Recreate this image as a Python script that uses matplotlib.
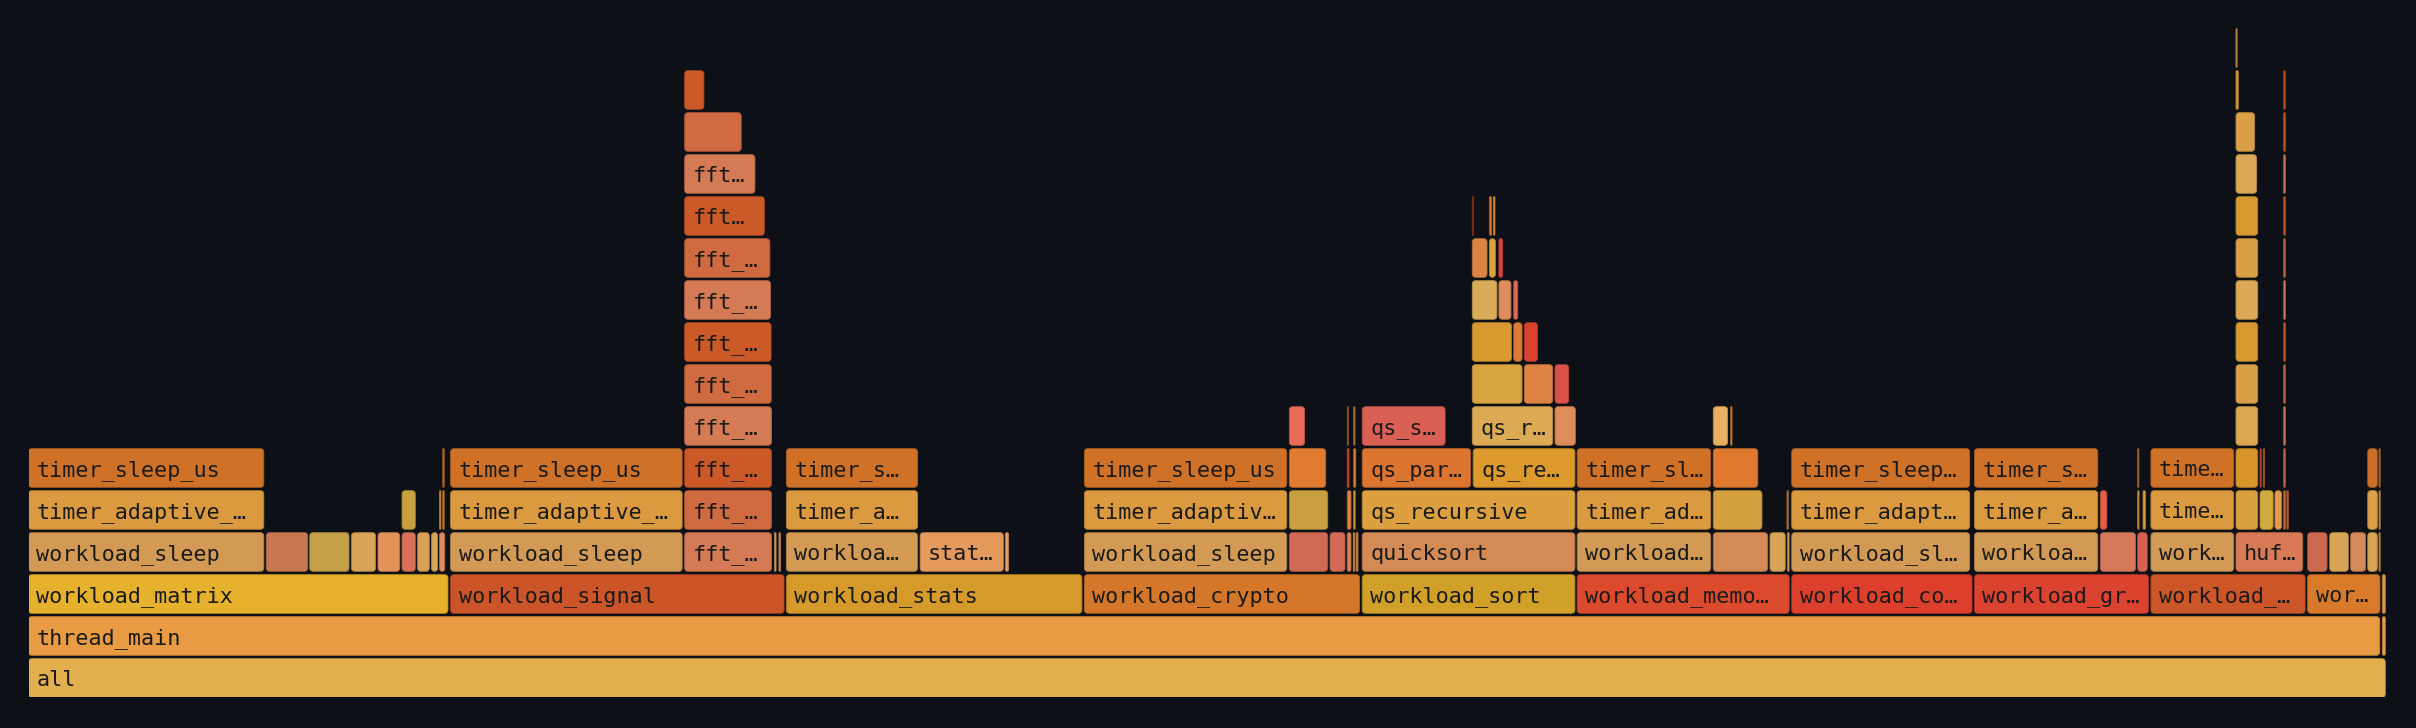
import matplotlib
matplotlib.use("Agg")
import matplotlib.pyplot as plt
import matplotlib.colors as mcolors
from matplotlib.patches import FancyBboxPatch

BG = "#0d1117"
TEXT_COLOR = "#1b1b1b"
TOTAL = 1531      # samples in "all"
MAX_DEPTH = 16

# frames: (depth, start sample, sample count, label)
base_frames = [
    (0, 0, 1531, "all"),
    (1, 0, 1527.4, "thread_main"),
    (1, 1527.5, 3.5, ""),
    (2, 0, 273.8, "workload_matrix"),
    (2, 273.9, 218.0, "workload_signal"),
    (2, 491.8, 193.4, "workload_stats"),
    (2, 685.2, 180.2, "workload_crypto"),
    (2, 865.5, 139.6, "workload_sort"),
    (2, 1005.0, 139.2, "workload_memo…"),
    (2, 1144.2, 118.6, "workload_co…"),
    (2, 1262.8, 114.5, "workload_gr…"),
    (2, 1377.3, 101.7, "workload_…"),
    (2, 1479.0, 48.5, "wor…"),
    (2, 1527.5, 3.5, ""),
]
base_colors = ["#e3b050", "#e89b42", "#e89b42",
               "#e6b22e", "#cb5428", "#d59a2a", "#d4772a", "#d0a028",
               "#dc4a2e", "#dc402c", "#dc4230", "#cc5628", "#d87a2a", "#e09a40"]

matrix_frames = [
    (3, 0, 154.3, "workload_sleep"),
    (3, 154.3, 28.5, ""),
    (3, 182.5, 27.1, ""),
    (3, 209.6, 17.2, ""),
    (3, 226.8, 15.7, ""),
    (3, 242.4, 10.2, ""),
    (3, 252.5, 9.2, ""),
    (3, 261.6, 5.5, ""),
    (3, 266.8, 4.9, ""),
    (4, 0, 154.3, "timer_adaptive_…"),
    (4, 242.4, 10.2, ""),
    (4, 266.8, 2.4, ""),
    (4, 268.8, 2.6, ""),
    (5, 0, 154.3, "timer_sleep_us"),
    (5, 268.8, 2.6, ""),
]
matrix_colors = ["#d39a55", "#c87850", "#c4a048", "#d8a455", "#e5925a", "#d87058",
                 "#d8a055", "#d8a858", "#e08a60",
                 "#dc9a40", "#c8a040", "#d89a40", "#c87830",
                 "#cf7228", "#b86a30"]

signal_frames = [
    (3, 273.9, 151.9, "workload_sleep"),
    (3, 425.8, 57.9, "fft_…"),
    (3, 484.1, 2.6, ""),
    (3, 487.0, 2.6, ""),
    (4, 273.9, 151.9, "timer_adaptive_…"),
    (4, 425.8, 57.9, "fft_…"),
    (5, 273.9, 151.9, "timer_sleep_us"),
    (5, 425.8, 57.9, "fft_…"),
    (6, 425.8, 57.9, "fft_…"),
    (7, 425.8, 57.8, "fft_…"),
    (8, 425.8, 57.7, "fft_…"),
    (9, 425.8, 57.3, "fft_…"),
    (10, 425.8, 56.9, "fft_…"),
    (11, 425.8, 53.3, "fft…"),
    (12, 425.8, 47.2, "fft…"),
    (13, 425.8, 38.3, ""),
    (14, 425.8, 14.1, ""),
]
signal_colors = ["#d39a55", "#d47a55", "#d8a055", "#d49050",
                 "#dc9a40", "#d06a40",
                 "#cf7228", "#cc5a28",
                 "#d47a55", "#d06a40", "#cc5a28", "#d47a55", "#d06a40",
                 "#cc5a28", "#d47a55", "#d06a40", "#cc5a28"]

stats_frames = [
    (3, 491.8, 86.7, "workloa…"),
    (3, 578.6, 55.6, "stat…"),
    (3, 633.9, 3.7, ""),
    (4, 491.8, 86.7, "timer_a…"),
    (5, 491.8, 86.7, "timer_s…"),
]
stats_colors = ["#d39a55", "#e49a5c", "#e49a5c", "#dc9a40", "#cf7228"]

crypto_frames = [
    (3, 685.2, 132.9, "workload_sleep"),
    (3, 818.2, 26.5, ""),
    (3, 844.6, 11.3, ""),
    (3, 855.8, 4.0, ""),
    (3, 859.7, 2.5, ""),
    (3, 861.5, 2.8, ""),
    (4, 685.2, 132.9, "timer_adaptiv…"),
    (4, 818.2, 26.5, ""),
    (4, 855.8, 4.0, ""),
    (4, 860.0, 2.5, ""),
    (5, 685.2, 132.9, "timer_sleep_us"),
    (5, 818.2, 25.2, ""),
    (5, 855.8, 2.7, ""),
    (5, 860.0, 2.9, ""),
    (6, 818.2, 11.5, ""),
    (6, 855.8, 2.3, ""),
    (6, 860.0, 2.4, ""),
]
crypto_colors = ["#d39a55", "#d06a55", "#d46a55", "#e08050", "#d8a055", "#d89050",
                 "#dc9a40", "#c8a040", "#e08040", "#d8a040",
                 "#cf7228", "#e07c30", "#d84a2a", "#e08030",
                 "#e86a5a", "#a06030", "#c08030"]

sort_frames = [
    (3, 865.5, 139.6, "quicksort"),
    (4, 865.5, 139.6, "qs_recursive"),
    (5, 865.5, 71.9, "qs_par…"),
    (5, 937.5, 67.6, "qs_re…"),
    (6, 865.5, 55.4, "qs_s…"),
    (6, 936.9, 53.8, "qs_r…"),
    (6, 990.6, 14.8, ""),
    (7, 936.9, 33.9, ""),
    (7, 970.7, 20.0, ""),
    (7, 990.6, 10.5, ""),
    (8, 936.9, 27.0, ""),
    (8, 963.8, 7.0, ""),
    (8, 970.7, 10.2, ""),
    (9, 936.9, 17.6, ""),
    (9, 954.2, 9.4, ""),
    (9, 963.8, 4.2, ""),
    (10, 936.9, 11.2, ""),
    (10, 948.0, 5.5, ""),
    (10, 954.2, 4.0, ""),
    (11, 936.9, 2.5, ""),
    (11, 948.0, 3.1, ""),
    (11, 950.7, 2.5, ""),
]
sort_colors = ["#d48a55", "#dca040", "#dc7530", "#dc9a2c",
               "#da5f55", "#dcaa55", "#dd8c5c",
               "#d9a540", "#dd8444", "#d9534a",
               "#d89a30", "#dd7a35", "#d9432e",
               "#d9ac5a", "#dd8c5c", "#d96a5a",
               "#dd8444", "#d9a540", "#d9453a",
               "#a03020", "#e07020", "#e0a030"]

memo_frames = [
    (3, 1005.0, 88.2, "workload…"),
    (3, 1093.3, 36.9, ""),
    (3, 1130.1, 11.5, ""),
    (3, 1141.5, 2.6, ""),
    (4, 1005.0, 88.2, "timer_ad…"),
    (4, 1093.3, 33.2, ""),
    (4, 1141.1, 2.7, ""),
    (5, 1005.0, 88.2, "timer_sl…"),
    (5, 1093.3, 30.5, ""),
    (6, 1093.3, 10.9, ""),
    (6, 1104.5, 2.6, ""),
]
memo_colors = ["#d39a55", "#d48a58", "#d8a455", "#d89a50",
               "#dc9a40", "#d4a040", "#a87040",
               "#cf7228", "#e07830",
               "#e8b060", "#c87830"]

co_frames = [
    (3, 1144.2, 117.1, "workload_sl…"),
    (4, 1144.2, 117.1, "timer_adapt…"),
    (5, 1144.2, 117.1, "timer_sleep…"),
]
co_colors = ["#d39a55", "#dc9a40", "#cf7228"]

gr_frames = [
    (3, 1262.8, 81.6, "workloa…"),
    (3, 1344.5, 24.4, ""),
    (3, 1368.7, 7.8, ""),
    (4, 1262.8, 81.6, "timer_a…"),
    (4, 1344.5, 5.8, ""),
    (4, 1368.7, 2.5, ""),
    (4, 1372.2, 3.1, ""),
    (5, 1262.8, 81.6, "timer_s…"),
    (5, 1368.7, 2.4, ""),
]
gr_colors = ["#d39a55", "#d47a5a", "#d86050",
             "#dc9a40", "#e0604a", "#c89040", "#d8a040",
             "#cf7228", "#b07030"]

huff_frames = [
    (3, 1377.3, 55.3, "work…"),
    (3, 1432.5, 44.9, "huf…"),
    (4, 1377.3, 55.3, "time…"),
    (4, 1432.5, 15.7, ""),
    (4, 1448.1, 10.1, ""),
    (4, 1457.8, 5.9, ""),
    (4, 1463.5, 2.6, ""),
    (4, 1465.5, 2.6, ""),
    (5, 1377.3, 55.3, "time…"),
    (5, 1432.5, 15.7, ""),
    (5, 1448.1, 2.4, ""),
    (5, 1450.2, 2.4, ""),
    (5, 1463.5, 2.6, ""),
    (6, 1432.5, 15.7, ""),
    (7, 1432.5, 15.7, ""),
    (8, 1432.5, 15.7, ""),
    (9, 1432.5, 15.7, ""),
    (10, 1432.5, 15.7, ""),
    (11, 1432.5, 15.7, ""),
    (12, 1432.5, 15.0, ""),
    (13, 1432.5, 13.7, ""),
    (14, 1432.5, 3.1, ""),
    (15, 1432.5, 2.3, ""),
    (6, 1463.5, 2.6, ""),
    (7, 1463.5, 2.6, ""),
    (8, 1463.5, 2.6, ""),
    (9, 1463.5, 2.6, ""),
    (10, 1463.5, 2.6, ""),
    (11, 1463.5, 2.6, ""),
    (12, 1463.5, 2.6, ""),
    (13, 1463.5, 2.6, ""),
    (14, 1463.5, 2.6, ""),
]
huff_colors = ["#d39a55", "#d87a55",
               "#dc9a40", "#d8a040", "#d4aa40", "#e89a50", "#d07040", "#c06030",
               "#cf7228", "#d8962a", "#c84a28", "#c06030", "#d06a40",
               "#dba850", "#d9a048", "#d89a30", "#dba858", "#d9a048", "#d89a30",
               "#dba858", "#d9a048", "#d89a30", "#d9a048",
               "#d47a55", "#d06a40", "#cc5a28", "#d47a55", "#d06a40",
               "#cc5a28", "#d47a55", "#cc5a28", "#c85020"]

tail_frames = [
    (3, 1479.0, 14.2, ""),
    (3, 1493.3, 13.7, ""),
    (3, 1506.9, 11.3, ""),
    (3, 1518.0, 7.8, ""),
    (3, 1525.3, 2.4, ""),
    (4, 1518.0, 7.8, ""),
    (4, 1525.3, 2.4, ""),
    (5, 1518.0, 7.8, ""),
    (5, 1525.3, 2.4, ""),
]
tail_colors = ["#cc6a50", "#d8a455", "#d48a58", "#d8a455", "#c89040",
               "#dba048", "#c89040", "#cc7028", "#b87030"]

groups = [(base_frames, base_colors), (matrix_frames, matrix_colors),
          (signal_frames, signal_colors), (stats_frames, stats_colors),
          (crypto_frames, crypto_colors), (sort_frames, sort_colors),
          (memo_frames, memo_colors), (co_frames, co_colors),
          (gr_frames, gr_colors), (huff_frames, huff_colors),
          (tail_frames, tail_colors)]

W_PX, H_PX, DPI = 2416, 728, 100
PX_PER_SAMPLE = 1.541
ROW_PX = 42
BAR_H = 0.92       # fraction of a row
GAP = 1.6          # samples left empty between neighbours
RADIUS_PX = 3.5

fig = plt.figure(figsize=(W_PX / DPI, H_PX / DPI), dpi=DPI, facecolor=BG)
ax = fig.add_axes([28.5 / W_PX, 30.7 / H_PX,
                   TOTAL * PX_PER_SAMPLE / W_PX, MAX_DEPTH * ROW_PX / H_PX])
ax.set_xlim(0, TOTAL)
ax.set_ylim(0, MAX_DEPTH)
ax.set_facecolor(BG)
ax.axis("off")

px_x = ax.bbox.width / TOTAL
px_y = ax.bbox.height / MAX_DEPTH
aspect = px_x / px_y
r_units = RADIUS_PX / px_x
pad_text = 8 / px_x

for frames, colors in groups:
    for (depth, start, width, label), col in zip(frames, colors):
        w = max(width - GAP, 0.45)
        r = min(r_units, w / 2)
        edge = tuple(c * 0.82 for c in mcolors.to_rgb(col))
        box = FancyBboxPatch((start, depth), w, BAR_H,
                             boxstyle=f"round,pad=0,rounding_size={r}",
                             mutation_aspect=aspect,
                             facecolor=col, edgecolor=edge, linewidth=0.6)
        ax.add_patch(box)
        if label:
            ax.text(start + pad_text, depth + 0.265, label,
                    fontfamily="DejaVu Sans Mono", fontsize=15.7,
                    color=TEXT_COLOR, va="baseline", ha="left")

fig.savefig("out.png", dpi=DPI, facecolor=BG)
